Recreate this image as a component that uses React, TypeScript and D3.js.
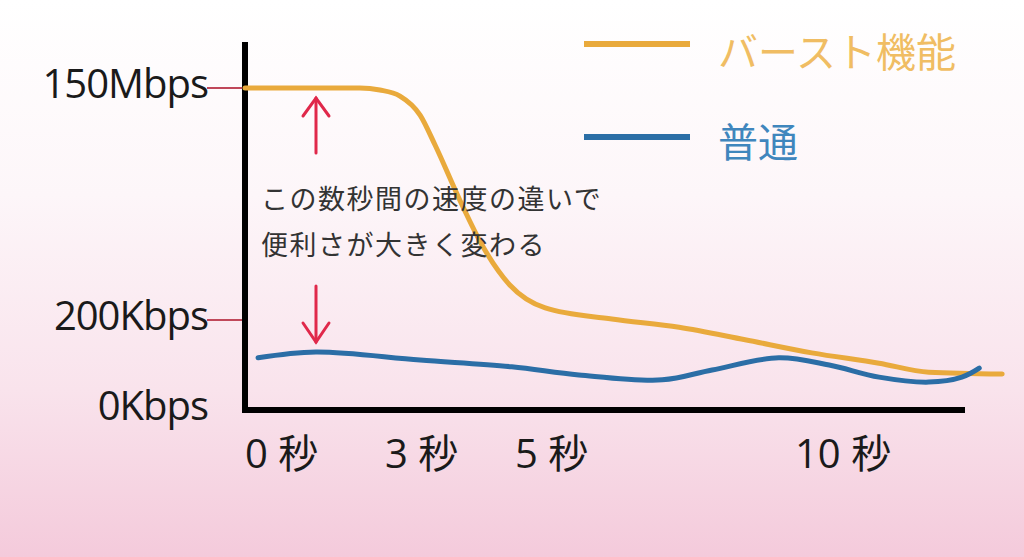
import React from "react";
import * as d3 from "d3";

// ---- data ----
const xTicks = [0, 3, 5, 10];
const xTickLabels = ["0 秒", "3 秒", "5 秒", "10 秒"];
const yTicks = [0, 200, 150000]; // Kbps
const yTickLabels = ["0Kbps", "200Kbps", "150Mbps"];

const seriesNames = ["バースト機能", "普通"];

const burstSeconds = [0, 2.46, 2.89, 3.23, 3.54, 3.77, 4.15, 4.51, 4.92, 5.54, 6.73, 7.93, 9.11, 10.3, 11.5, 12.39, 13.7];
const burstKbps = [150000, 150000, 148700, 144800, 132500, 113200, 77700, 47300, 22800, 7950, 850, 184, 156, 127, 104, 84, 80];

const normalSeconds = [0.28, 1.52, 3.54, 4.95, 6.14, 7.63, 8.52, 9.71, 10.61, 11.5, 12.39, 12.98, 13.29];
const normalKbps = [116, 129, 111, 96, 78, 67, 89, 116, 100, 73, 62, 73, 93];

const annotationLines = ["この数秒間の速度の違いで", "便利さが大きく変わる"];

export default function App() {
  const W = 1024;
  const H = 557;
  const x = d3.scaleLinear().domain([0, 3, 5, 10]).range([245, 385, 515, 795]);
  const y = d3.scaleLinear().domain([0, 200, 150000]).range([410, 320, 88]);

  const burstLine = d3
    .line<[number, number]>()
    .x((d) => x(d[0]))
    .y((d) => y(d[1]))
    .curve(d3.curveMonotoneX);
  const normalLine = d3
    .line<[number, number]>()
    .x((d) => x(d[0]))
    .y((d) => y(d[1]))
    .curve(d3.curveCatmullRom.alpha(0.5));

  const burst = burstSeconds.map((s, i) => [s, burstKbps[i]] as [number, number]);
  const normal = normalSeconds.map((s, i) => [s, normalKbps[i]] as [number, number]);

  const orange = "#e9aa3c";
  const blue = "#2b6ea6";
  const red = "#e0284a";
  const tickFont = "'Open Sans', 'Noto Sans', sans-serif";
  const jpFont = "'Noto Sans CJK JP', sans-serif";

  const axisLeft = x(0);
  const axisBottom = y(0);
  const arrowX = 316;

  return (
    <div style={{ position: "absolute", left: 0, top: 0, width: W, height: H, overflow: "hidden" }}>
      <svg width={W} height={H} style={{ display: "block" }}>
        <defs>
          <linearGradient id="bg" x1="0" y1="0" x2="0" y2="1">
            <stop offset="0" stopColor="#ffffff" />
            <stop offset="0.35" stopColor="#fdf6f9" />
            <stop offset="0.7" stopColor="#f9e3ec" />
            <stop offset="1" stopColor="#f4cadb" />
          </linearGradient>
        </defs>
        <rect x={0} y={0} width={W} height={H} fill="url(#bg)" />

        {/* y tick marks and labels */}
        {yTicks.map((t, i) => (
          <g key={"yt" + i}>
            {t > 0 && (
              <line x1={207} x2={axisLeft} y1={y(t)} y2={y(t)} stroke="#c0485a" strokeWidth={2} />
            )}
            <text
              x={208}
              y={y(t) + 10}
              textAnchor="end"
              fontFamily={tickFont}
              fontSize={40}
              fill="#1a1a1a"
              letterSpacing={-1}
            >
              {yTickLabels[i]}
            </text>
          </g>
        ))}

        {/* x tick labels */}
        {xTicks.map((t, i) => (
          <text
            key={"xt" + i}
            x={x(t)}
            y={468}
            textAnchor="start"
            fontFamily={tickFont + ", " + jpFont}
            fontSize={40}
            fill="#1a1a1a"
          >
            {xTickLabels[i]}
          </text>
        ))}

        {/* axes */}
        <line x1={axisLeft} x2={axisLeft} y1={42} y2={axisBottom + 3} stroke="#000" strokeWidth={6} />
        <line x1={axisLeft - 3} x2={965} y1={axisBottom} y2={axisBottom} stroke="#000" strokeWidth={6} />

        {/* series */}
        <path d={burstLine(burst) || ""} fill="none" stroke={orange} strokeWidth={5} strokeLinecap="round" />
        <path d={normalLine(normal) || ""} fill="none" stroke={blue} strokeWidth={5} strokeLinecap="round" />

        {/* arrows */}
        <g stroke={red} strokeWidth={3} fill="none" strokeLinecap="round">
          <line x1={arrowX} x2={arrowX} y1={153} y2={98} />
          <polyline points={`${arrowX - 13},${116} ${arrowX},${98} ${arrowX + 13},${116}`} />
          <line x1={arrowX} x2={arrowX} y1={286} y2={342} />
          <polyline points={`${arrowX - 13},${323} ${arrowX},${342} ${arrowX + 13},${323}`} />
        </g>

        {/* annotation */}
        {annotationLines.map((l, i) => (
          <text
            key={"an" + i}
            x={261}
            y={197 + i * 46}
            dominantBaseline="central"
            fontFamily={jpFont}
            fontSize={27}
            letterSpacing={1.5}
            fill="#333"
          >
            {l}
          </text>
        ))}

        {/* legend */}
        <line x1={584} x2={690} y1={44} y2={44} stroke={orange} strokeWidth={6} />
        <text x={718} y={50} dominantBaseline="central" fontFamily={jpFont} fontSize={40} fill="#f0bd63">
          {seriesNames[0]}
        </text>
        <line x1={584} x2={690} y1={137} y2={137} stroke={blue} strokeWidth={6} />
        <text x={718} y={140} dominantBaseline="central" fontFamily={jpFont} fontSize={40} fill="#3f86bd">
          {seriesNames[1]}
        </text>
      </svg>
    </div>
  );
}
